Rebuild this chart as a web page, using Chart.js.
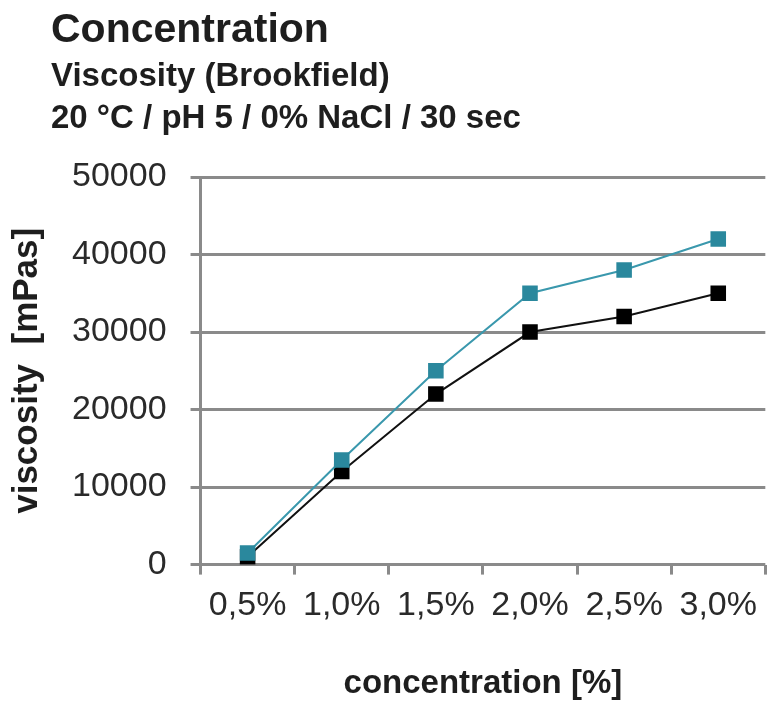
<!DOCTYPE html>
<html>
<head>
<meta charset="utf-8">
<script src="https://cdn.jsdelivr.net/npm/chart.js@4"></script>
<style>
  html, body { margin: 0; padding: 0; background: #fff; overflow: hidden; }
  #wrap { position: relative; width: 768px; height: 701px; }
  #c { position: absolute; left: 0; top: 0; }
  .t { position: absolute; left: 51px; line-height: 1; font-family: "Liberation Sans", Arial, sans-serif; font-weight: bold; color: #1e1e1e; white-space: nowrap; }
</style>
</head>
<body>
<div id="wrap">
  <canvas id="c" width="768" height="701"></canvas>
  <div class="t" id="t1" style="top:8px;font-size:41px;"></div>
  <div class="t" id="t2" style="top:58px;font-size:33px;"></div>
  <div class="t" id="t3" style="top:100px;font-size:33px;"></div>
</div>
<script>
const titleText = "Concentration";
const subtitleLines = ["Viscosity (Brookfield)", "20 °C / pH 5 / 0% NaCl / 30 sec"];
const categories = ["0,5%", "1,0%", "1,5%", "2,0%", "2,5%", "3,0%"];
const seriesTeal = [1500, 13500, 25000, 35000, 38000, 42000];
const seriesBlack = [1000, 12000, 22000, 30000, 32000, 35000];
const yTicks = [0, 10000, 20000, 30000, 40000, 50000];
const xTitle = "concentration [%]";
const yTitle = "viscosity  [mPas]";

document.getElementById('t1').textContent = titleText;
document.getElementById('t2').textContent = subtitleLines[0];
document.getElementById('t3').textContent = subtitleLines[1];

const FONT = "'Liberation Sans', Arial, sans-serif";
const GRID = '#8a8a8a';

new Chart(document.getElementById('c'), {
  type: 'line',
  data: {
    labels: categories,
    datasets: [
      {
        label: 'teal',
        data: seriesTeal,
        borderColor: '#3a98ad',
        backgroundColor: '#2a889d',
        borderWidth: 2,
        pointStyle: 'rect',
        pointRadius: 11,
        pointHoverRadius: 11,
        pointBorderWidth: 0,
        tension: 0
      },
      {
        label: 'black',
        data: seriesBlack,
        borderColor: '#111111',
        backgroundColor: '#000000',
        borderWidth: 2,
        pointStyle: 'rect',
        pointRadius: 11,
        pointHoverRadius: 11,
        pointBorderWidth: 0,
        tension: 0
      }
    ]
  },
  options: {
    responsive: false,
    animation: false,
    devicePixelRatio: 1,
    layout: { autoPadding: false, padding: { top: 177, right: -4, bottom: -3, left: 6 } },
    plugins: {
      legend: { display: false },
      tooltip: { enabled: false }
    },
    scales: {
      x: {
        type: 'category',
        offset: true,
        grid: {
          offset: true,
          drawOnChartArea: false,
          drawTicks: true,
          tickLength: 10,
          tickWidth: 3,
          tickColor: GRID,
          color: GRID
        },
        border: { display: false },
        ticks: {
          color: '#2a2a2a',
          font: { family: FONT, size: 34 },
          padding: 11,
          maxRotation: 0,
          autoSkip: false
        },
        title: {
          display: true,
          text: xTitle,
          color: '#1e1e1e',
          font: { family: FONT, size: 33, weight: 'bold' },
          padding: { top: 27, bottom: 0 }
        }
      },
      y: {
        min: 0,
        max: 50000,
        afterBuildTicks: (axis) => { axis.ticks = yTicks.map(v => ({ value: v })); },
        grid: {
          color: GRID,
          lineWidth: 3,
          tickLength: 10,
          tickColor: GRID
        },
        border: { display: true, color: GRID, width: 3 },
        ticks: {
          color: '#2a2a2a',
          font: { family: FONT, size: 34 },
          padding: 24,
          callback: (v) => String(v)
        },
        title: {
          display: true,
          text: yTitle,
          color: '#1e1e1e',
          font: { family: FONT, size: 35, weight: 'bold' },
          padding: { top: 0, bottom: 0 }
        }
      }
    }
  }
});
</script>
</body>
</html>
